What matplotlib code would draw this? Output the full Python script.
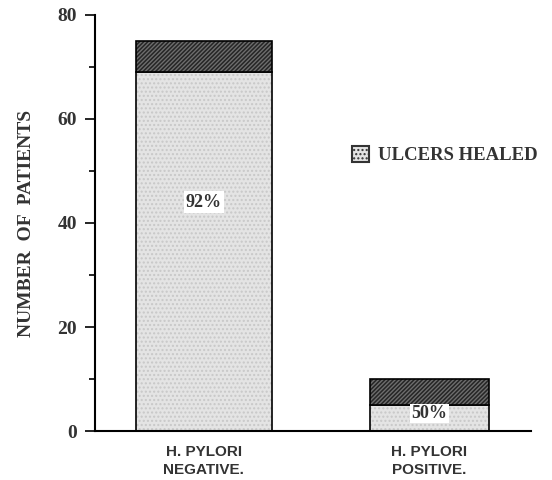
import matplotlib.pyplot as plt
from matplotlib.patches import Patch

groups = ["H. PYLORI\nNEGATIVE.", "H. PYLORI\nPOSITIVE."]
healed = [69, 5]
total = [75, 10]
pct_labels = ["92%", "50%"]

not_healed = [t - h for t, h in zip(total, healed)]
xpos = [0, 1]
widths = [0.6, 0.53]

fig = plt.figure(figsize=(5.52, 4.8), dpi=100)
ax = fig.add_axes([0.172, 0.102, 0.79, 0.867])

# healed part: light stipple
ax.bar(xpos, healed, width=widths, color="#e4e4e4", edgecolor="#c8c8c8",
       hatch="....", linewidth=0)
ax.bar(xpos, healed, width=widths, fill=False, edgecolor="black", linewidth=1.2)
# not healed part: dark hatched
ax.bar(xpos, not_healed, bottom=healed, width=widths, color="#262626",
       edgecolor="#6e6e6e", hatch="////////", linewidth=0)
ax.bar(xpos, not_healed, bottom=healed, width=widths, fill=False,
       edgecolor="black", linewidth=1.2)

serif = "Liberation Serif"
sans = "Liberation Sans"

ax.text(0, 44, pct_labels[0], ha="center", va="center", fontsize=13,
        fontweight="bold", family=serif, color="#333333",
        bbox=dict(facecolor="white", edgecolor="none", pad=1.5))
ax.text(1, 3.4, pct_labels[1], ha="center", va="center", fontsize=13,
        fontweight="bold", family=serif, color="#333333",
        bbox=dict(facecolor="white", edgecolor="none", pad=0.8))

ax.set_xlim(-0.483, 1.45)
ax.set_ylim(0, 80)
ax.set_yticks([0, 20, 40, 60, 80])
ax.set_yticks(range(0, 81, 10), minor=True)
ax.set_xticks(xpos)
ax.set_xticklabels(groups, family=sans, fontweight="bold", fontsize=11,
                   color="#333333", linespacing=1.4)
for lab in ax.get_yticklabels():
    lab.set_family(serif)
    lab.set_fontweight("bold")
    lab.set_fontsize(14)
    lab.set_color("#333333")
ax.tick_params(axis="x", length=0, pad=10)
ax.tick_params(axis="y", which="major", length=7, width=1.2, pad=6)
ax.tick_params(axis="y", which="minor", length=4, width=1.2)
ax.spines["top"].set_visible(False)
ax.spines["right"].set_visible(False)
ax.spines["left"].set_linewidth(1.5)
ax.spines["bottom"].set_linewidth(1.5)

ax.set_ylabel("NUMBER  OF  PATIENTS", family=serif, fontweight="bold",
              fontsize=14, color="#333333", labelpad=16)

handle = Patch(facecolor="#e4e4e4", edgecolor="#333333", hatch="....",
               linewidth=1.5)
ax.legend([handle], ["ULCERS HEALED"], loc="center left",
          bbox_to_anchor=(0.59, 0.663), frameon=False, handlelength=0.9,
          handleheight=0.9, handletextpad=0.5, borderpad=0,
          borderaxespad=0,
          prop=dict(family=serif, weight="bold", size=13.5))
for t in ax.get_legend().get_texts():
    t.set_color("#333333")

fig.savefig("out.png", dpi=100)
